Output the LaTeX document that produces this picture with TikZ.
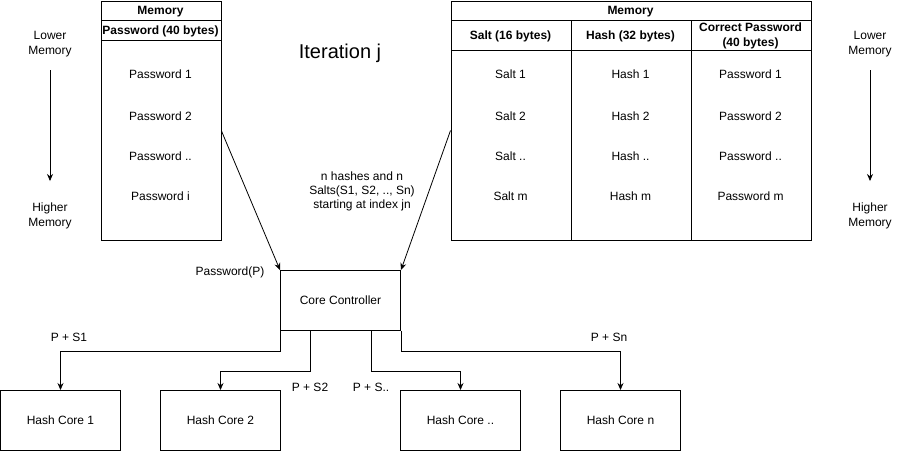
\documentclass[tikz,border=0pt]{standalone}
\usepackage{fontspec}
\setmainfont{Liberation Sans}
\usetikzlibrary{arrows.meta,calc}
\begin{document}
\begin{tikzpicture}[x=1pt,y=-1pt,
  txt/.style={inner sep=0pt, align=center, font=\fontsize{12}{15}\selectfont},
  hdr/.style={inner sep=0pt, align=center, font=\fontsize{12}{15}\selectfont\bfseries},
  cell/.style={draw, line width=1pt, inner sep=0pt, anchor=north west, minimum width=120pt},
  box/.style={draw, line width=1pt, inner sep=0pt, minimum width=120pt, minimum height=60pt, align=center, font=\fontsize{12}{15}\selectfont},
  arr/.style={-{Stealth[length=7pt,width=6pt]}, line width=0.8pt}
]
\useasboundingbox (0,0) rectangle (901,451);

% left memory table
\node[cell, minimum height=239pt] (lmem) at (100.5,0.5) {};
\node[cell, minimum height=19.5pt] (lmemh) at (100.5,0.5) {};
\node[hdr] (lmemt) at (160.5,11.5) {Memory};
\node[cell, minimum height=20pt] (lpwh) at (100.5,20) {};
\node[hdr] (lpwt) at (160.5,31) {Password (40 bytes)};
\node[txt] (lp1) at (160.5,74) {Password 1};
\node[txt] (lp2) at (160.5,116) {Password 2};
\node[txt] (lp3) at (160.5,156) {Password ..};
\node[txt] (lp4) at (160.5,196) {Password i};

% left memory direction
\node[txt] (llow) at (50,44.5) {Lower\\Memory};
\node[txt] (lhigh) at (50,216) {Higher\\Memory};
\coordinate (la1) at (50,70);
\coordinate (la2) at (50,181);
\draw[arr] (la1) -- (la2);

% iteration
\node[inner sep=0pt, font=\fontsize{20}{24}\selectfont] (iter) at (340,53) {Iteration j};

% right memory table
\node[cell, minimum width=360pt, minimum height=19.5pt] (rmemh) at (450.5,0.5) {};
\node[hdr] (rmemt) at (630.5,11.5) {Memory};
\node[cell, minimum height=30pt] (rsh) at (450.5,20) {};
\node[cell, minimum height=30pt] (rhh) at (570.5,20) {};
\node[cell, minimum height=30pt] (rph) at (690.5,20) {};
\node[hdr] (rsht) at (510.5,36) {Salt (16 bytes)};
\node[hdr] (rhht) at (630.5,36) {Hash (32 bytes)};
\node[hdr] (rpht) at (750.5,36) {Correct Password\\(40 bytes)};
\node[cell, minimum height=190pt] (rsb) at (450.5,50) {};
\node[cell, minimum height=190pt] (rhb) at (570.5,50) {};
\node[cell, minimum height=190pt] (rpb) at (690.5,50) {};
\node[txt] (rs1) at (510.5,74) {Salt 1};
\node[txt] (rs2) at (510.5,116) {Salt 2};
\node[txt] (rs3) at (510.5,156) {Salt ..};
\node[txt] (rs4) at (510.5,196) {Salt m};
\node[txt] (rh1) at (630.5,74) {Hash 1};
\node[txt] (rh2) at (630.5,116) {Hash 2};
\node[txt] (rh3) at (630.5,156) {Hash ..};
\node[txt] (rh4) at (630.5,196) {Hash m};
\node[txt] (rp1) at (750.5,74) {Password 1};
\node[txt] (rp2) at (750.5,116) {Password 2};
\node[txt] (rp3) at (750.5,156) {Password ..};
\node[txt] (rp4) at (750.5,196) {Password m};

% right memory direction
\node[txt] (rlow) at (870,44.5) {Lower\\Memory};
\node[txt] (rhigh) at (870,216) {Higher\\Memory};
\coordinate (ra1) at (870,70);
\coordinate (ra2) at (870,181);
\draw[arr] (ra1) -- (ra2);

% n hashes label
\node[txt, font=\fontsize{12}{14}\selectfont] (nh) at (362,191) {n hashes and n\\Salts(S1, S2, .., Sn)\\starting at index jn};

% core controller
\node[box] (cc) at (340.5,300.5) {Core Controller};
\node[txt] (pwp) at (230,272) {Password(P)};

% hash cores
\node[box] (hc1) at (60.5,420.5) {Hash Core 1};
\node[box] (hc2) at (220.5,420.5) {Hash Core 2};
\node[box] (hcd) at (460.5,420.5) {Hash Core ..};
\node[box] (hcn) at (620.5,420.5) {Hash Core n};

% arrows from memories
\draw[arr] ($(lmem.north east)+(0,130.5)$) -- (cc.north west);
\draw[arr] ($(rsb.north west)+(0,80.5)$) -- (cc.north east);

% arrows to hash cores
\draw[arr] (cc.south west) -- ++(0,20) -| (hc1.north);
\draw[arr] ([xshift=30pt]cc.south west) -- ++(0,40) -| (hc2.north);
\draw[arr] ([xshift=-30pt]cc.south east) -- ++(0,40) -| (hcd.north);
\draw[arr] (cc.south east) -- ++(0,20) -| (hcn.north);

% labels
\node[txt] (l1) at (69,337) {P + S1};
\node[txt] (l2) at (310,387) {P + S2};
\node[txt] (l3) at (371,387) {P + S..};
\node[txt] (ln) at (609,337) {P + Sn};
\end{tikzpicture}
\end{document}
